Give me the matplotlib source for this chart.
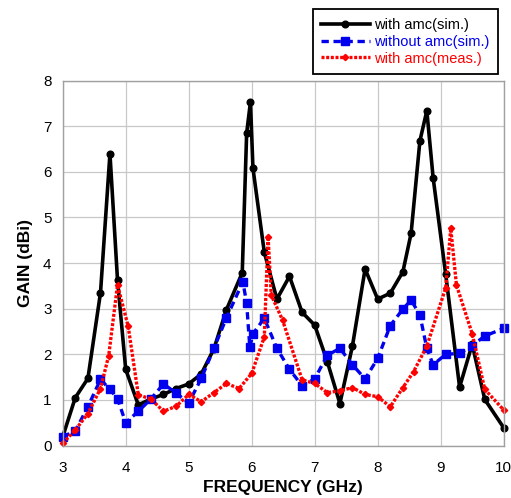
import matplotlib
matplotlib.use('Agg')
import matplotlib.pyplot as plt

plt.rcParams['font.family'] = ['Liberation Sans', 'DejaVu Sans']

# with amc (simulated)
freq_amc_sim = [3.0, 3.2, 3.4, 3.6, 3.75, 3.87, 4.0, 4.2, 4.4, 4.6, 4.8, 5.0, 5.2, 5.4,
                5.6, 5.85, 5.92, 5.98, 6.02, 6.2, 6.4, 6.6, 6.8, 7.0, 7.2, 7.4, 7.6,
                7.8, 8.0, 8.2, 8.4, 8.53, 8.67, 8.78, 8.88, 9.08, 9.3, 9.5, 9.7, 10.0]
gain_amc_sim = [0.19, 1.05, 1.47, 3.35, 6.4, 3.63, 1.67, 0.89, 1.02, 1.12, 1.25, 1.35, 1.57, 2.12,
                2.98, 3.79, 6.85, 7.53, 6.08, 4.24, 3.21, 3.71, 2.92, 2.64, 1.84, 0.92, 2.19,
                3.87, 3.21, 3.34, 3.81, 4.65, 6.68, 7.34, 5.87, 3.75, 1.28, 2.22, 1.01, 0.39]

# without amc (simulated)
freq_noamc_sim = [3.0, 3.2, 3.4, 3.6, 3.75, 3.87, 4.0, 4.2, 4.4, 4.6, 4.8, 5.0, 5.2, 5.4,
                  5.6, 5.86, 5.92, 5.97, 6.02, 6.2, 6.4, 6.6, 6.8, 7.0, 7.2, 7.4, 7.6,
                  7.8, 8.0, 8.2, 8.4, 8.53, 8.67, 8.78, 8.88, 9.08, 9.3, 9.5, 9.7, 10.0]
gain_noamc_sim = [0.19, 0.32, 0.85, 1.45, 1.23, 1.03, 0.5, 0.75, 1.02, 1.35, 1.15, 0.93, 1.47, 2.13,
                  2.8, 3.59, 3.12, 2.15, 2.45, 2.79, 2.13, 1.67, 1.31, 1.46, 1.98, 2.13, 1.77,
                  1.46, 1.91, 2.63, 2.99, 3.19, 2.86, 2.13, 1.77, 2.0, 2.02, 2.19, 2.4, 2.57]

# with amc (measured)
freq_amc_meas = [3.0, 3.2, 3.4, 3.6, 3.73, 3.87, 4.04, 4.2, 4.4, 4.6, 4.8, 5.0, 5.2, 5.4,
                 5.6, 5.8, 6.0, 6.2, 6.26, 6.31, 6.49, 6.8, 7.0, 7.2, 7.4, 7.6, 7.8,
                 8.0, 8.2, 8.4, 8.57, 8.78, 9.08, 9.16, 9.25, 9.5, 9.7, 10.0]
gain_amc_meas = [0.05, 0.34, 0.7, 1.25, 1.97, 3.52, 2.61, 1.11, 1.02, 0.75, 0.86, 1.12, 0.96, 1.16,
                 1.36, 1.25, 1.58, 2.38, 4.58, 3.3, 2.75, 1.44, 1.36, 1.16, 1.2, 1.27, 1.12,
                 1.07, 0.85, 1.27, 1.62, 2.18, 3.46, 4.76, 3.52, 2.45, 1.23, 0.78]

fig = plt.figure(figsize=(5.11, 4.98), dpi=100)
ax = fig.add_axes([0.1227, 0.1054, 0.863, 0.7326])

ax.plot(freq_amc_sim, gain_amc_sim, color='black', lw=2.6, marker='o', ms=4.8,
        label='with amc(sim.)', clip_on=False)
ax.plot(freq_noamc_sim, gain_noamc_sim, color='#0000ee', lw=2.4, ls=(0, (2.2, 1.4)),
        marker='s', ms=5.2, label='without amc(sim.)', clip_on=False)
ax.plot(freq_amc_meas, gain_amc_meas, color='#ff0000', lw=2.4, ls=(0, (0.9, 0.5)),
        marker='D', ms=3.2, label='with amc(meas.)', clip_on=False)

ax.set_xlim(3, 10)
ax.set_ylim(0, 8)
ax.set_xticks(range(3, 11))
ax.set_yticks(range(0, 9))
ax.grid(True, color='#c8c8c8', lw=0.9)
ax.set_axisbelow(True)
for s in ax.spines.values():
    s.set_color('#a0a0a0')
    s.set_linewidth(1.0)
ax.tick_params(length=0, labelsize=11, pad=8)
ax.tick_params(axis='x', pad=11)
ax.set_xlabel('FREQUENCY (GHz)', fontsize=12.5, fontweight='bold', labelpad=4)
ax.set_ylabel('GAIN (dBi)', fontsize=12.5, fontweight='bold', labelpad=7)

leg = fig.legend(loc='upper right', bbox_to_anchor=(498 / 511, 1 - 9 / 498),
                 borderaxespad=0, fontsize=10.5, labelcolor='linecolor',
                 fancybox=False, framealpha=1, edgecolor='black',
                 handlelength=3.3, handletextpad=0.3, labelspacing=0.2,
                 borderpad=0.6)
leg.get_frame().set_linewidth(1.3)

fig.savefig('out.png', dpi=100)
